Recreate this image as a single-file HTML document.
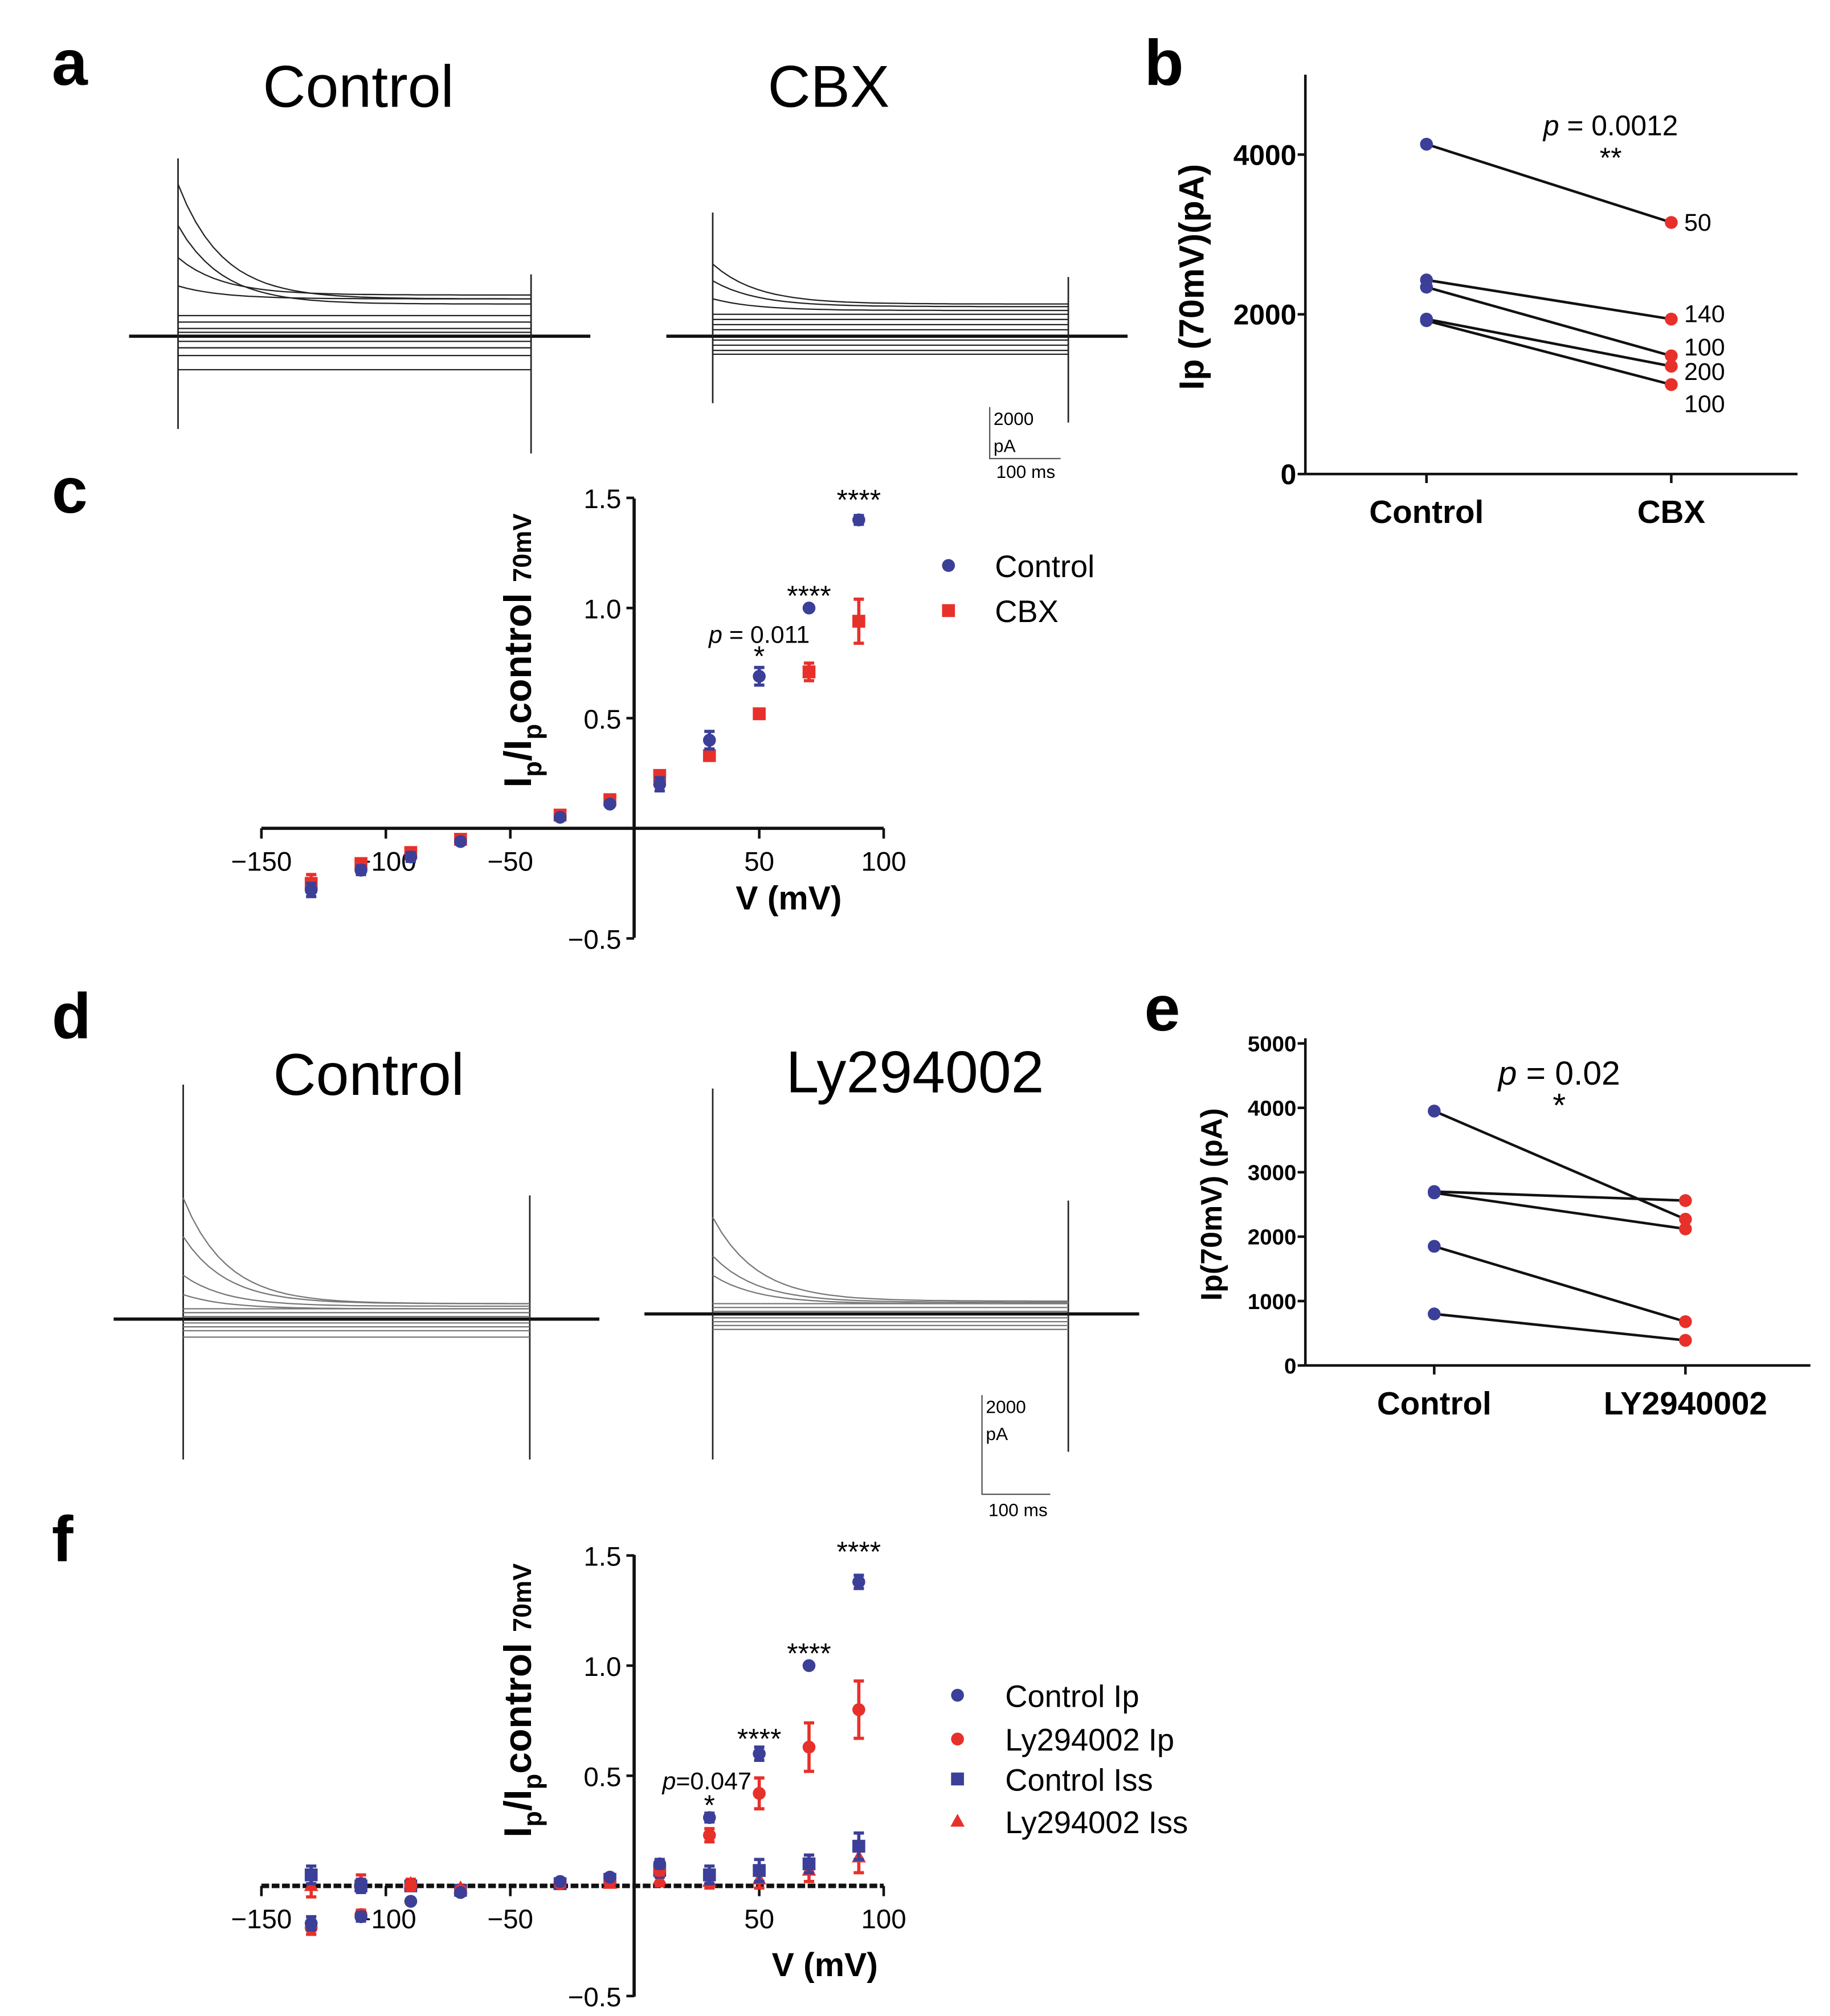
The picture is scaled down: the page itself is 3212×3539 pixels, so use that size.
<!DOCTYPE html>
<html><head><meta charset="utf-8"><style>
html,body{margin:0;padding:0;background:#fff}
svg{display:block}
text{font-family:"Liberation Sans",Arial,sans-serif}
.b{font-weight:bold}
</style></head><body>
<svg id="fig" width="3212" height="3539" viewBox="0 0 1420 1565" xmlns="http://www.w3.org/2000/svg">
<g id="labels">
<text x="40" y="66" font-size="50" class="b">a</text>
<text x="888" y="66" font-size="50" class="b">b</text>
<text x="40" y="398" font-size="50" class="b">c</text>
<text x="40" y="806" font-size="50" class="b">d</text>
<text x="888" y="800" font-size="50" class="b">e</text>
<text x="40" y="1212" font-size="50" class="b">f</text>
<text x="278" y="83" font-size="46" text-anchor="middle">Control</text>
<text x="643" y="83" font-size="46" text-anchor="middle">CBX</text>
<text x="286" y="850" font-size="46" text-anchor="middle">Control</text>
<text x="710" y="848" font-size="46" text-anchor="middle">Ly294002</text>
</g>
<g id="traces"></g>
<g id="pb"></g>
<g id="pc"></g>
<g id="pe"></g>
<g id="pf"></g>
</svg>
<script>
// ---- panel b data ----
const bCats=["Control","CBX"];
const bControl=[4130,2430,2340,1940,1920];
const bCBX=[3150,1940,1480,1350,1120];
const bNotes=["50","140","100","200","100"];
const bTicks=[0,2000,4000];
// ---- panel e data ----
const eCats=["Control","LY2940002"];
const eControl=[3950,2700,2680,1850,800];
const eLy=[2270,2560,2120,680,390];
const eTicks=[0,1000,2000,3000,4000,5000];
// ---- panel c data ----
const volts=[-130,-110,-90,-70,-30,-10,10,30,50,70,90];
const cControl=[-0.28,-0.19,-0.13,-0.06,0.05,0.11,0.2,0.4,0.69,1.0,1.4];
const cControlErr=[0.03,0.02,0.02,0.01,0.01,0.01,0.03,0.04,0.04,0.01,0.02];
const cCBX=[-0.25,-0.16,-0.11,-0.05,0.06,0.13,0.24,0.33,0.52,0.71,0.94];
const cCBXErr=[0.04,0.02,0.02,0.01,0.01,0.01,0.02,0.02,0.02,0.04,0.1];
const xTicks=[-150,-100,-50,50,100];
const yTicks=[-0.5,0.5,1.0,1.5];
// ---- panel f data ----
const fCtrlIp=[-0.17,-0.14,-0.07,-0.03,0.02,0.04,0.1,0.31,0.6,1.0,1.38];
const fCtrlIpErr=[0.03,0.02,0.01,0.01,0.01,0.01,0.02,0.02,0.03,0.01,0.03];
const fLyIp=[-0.19,-0.13,0.0,-0.02,0.01,0.02,0.07,0.23,0.42,0.63,0.8];
const fLyIpErr=[0.03,0.02,0.02,0.01,0.01,0.01,0.02,0.03,0.07,0.11,0.13];
const fCtrlIss=[0.05,0.0,0.0,-0.02,0.01,0.03,0.07,0.05,0.07,0.1,0.18];
const fCtrlIssErr=[0.04,0.03,0.02,0.02,0.01,0.02,0.03,0.04,0.05,0.04,0.06];
const fLyIss=[0.0,0.02,0.01,-0.01,0.01,0.01,0.03,0.02,0.03,0.07,0.13];
const fLyIssErr=[0.05,0.03,0.02,0.01,0.01,0.01,0.03,0.03,0.04,0.05,0.07];

const NS="http://www.w3.org/2000/svg";
function mk(parent,tag,attrs,txt){const e=document.createElementNS(NS,tag);for(const k in attrs)e.setAttribute(k,attrs[k]);if(txt!==undefined)e.textContent=txt;parent.appendChild(e);return e;}
const BLUE="#3b3f98",RED="#e8302a";

// ---------- traces ----------
const T=document.getElementById('traces');
function traceSet(x0,x1,xs,xe,base,top1,bot1,end1,end2,steady,peaks,col,spk){
  let l=mk(T,'line',{x1:xs,y1:base,x2:xe,y2:base,stroke:'#111','stroke-width':2.5});
  
  
  let v=mk(T,'line',{x1:x0,y1:top1,x2:x0,y2:bot1,stroke:'#222','stroke-width':1.2});
  
  
  let v2=mk(T,'line',{x1:x1,y1:end1,x2:x1,y2:end2,stroke:'#222','stroke-width':1.2});
  
  
  steady.forEach(y=>{
    let p=mk(T,'line',{x1:x0,y1:y,x2:x1,y2:y,stroke:col,'stroke-width':1});
    
    
  });
  peaks.forEach(([py,sy])=>{
    let d='M'+x0+','+py;
    for(let i=1;i<=40;i++){const x=x0+(x1-x0)*i/40;const y=sy+(py-sy)*Math.exp(-i/5);d+=' L'+x.toFixed(1)+','+y.toFixed(1);}
    let p=mk(T,'path',{d:d,fill:'none',stroke:col,'stroke-width':1});
    
    
  });
}
traceSet(138,412,100,458,261,123,333,213,352,[245,250,255,258,265,270,276,287],[[143,232],[175,236],[200,229],[222,232]],'#222');
traceSet(553,829,517,875,261,165,313,215,328,[244,248,252,256,264,268,272,275],[[205,236],[218,238],[232,241]],'#222');
traceSet(142,411,88,465,1024,842,1133,928,1133,[1016,1019,1022,1027,1030,1033,1038],[[930,1012],[960,1012],[990,1014],[1005,1016]],'#777');
traceSet(553,829,500,884,1020,845,1133,932,1127,[1012,1015,1018,1023,1026,1029,1032],[[945,1010],[975,1011],[990,1012]],'#777');
function scaleBar(x,y0,y1,x2,ty){
  let g=mk(T,'g',{});
  
  
  mk(g,'path',{d:`M${x},${y0} L${x},${y1} L${x2},${y1}`,fill:'none',stroke:'#555','stroke-width':1});
  mk(g,'text',{x:x+3,y:y0+14,'font-size':14},'2000');
  mk(g,'text',{x:x+3,y:y0+35,'font-size':14},'pA');
  mk(g,'text',{x:x+5,y:ty,'font-size':14},'100 ms');
}
scaleBar(768,316,356,823,371);
scaleBar(762,1083,1160,815,1177);

// ---------- paired plots ----------
function paired(gid,cats,a,b,ticks,tmax,y0px,ymaxPx,xl,xr,xA,xB,axTop,notes,ylab,ylx,yly,ylfs,tfs,pText,px,py,starTxt){
  const G=document.getElementById(gid);
  const Y=v=>y0px-(v/tmax)*(y0px-ymaxPx);
  mk(G,'line',{x1:xl,y1:axTop,x2:xl,y2:y0px,stroke:'#111','stroke-width':2});
  mk(G,'line',{x1:xl,y1:y0px,x2:xr,y2:y0px,stroke:'#111','stroke-width':2});
  ticks.forEach(t=>{
    mk(G,'line',{x1:xl-6,y1:Y(t),x2:xl,y2:Y(t),stroke:'#111','stroke-width':2});
    let tx=mk(G,'text',{x:xl-7,y:Y(t)+tfs*0.36,'font-size':tfs,'text-anchor':'end',class:'b'},t);
    
    
  });
  [xA,xB].forEach((x,i)=>{
    mk(G,'line',{x1:x,y1:y0px,x2:x,y2:y0px+7,stroke:'#111','stroke-width':2});
    let tx=mk(G,'text',{x:x,y:y0px+38,'font-size':25,'text-anchor':'middle',class:'b'},cats[i]);
    
    
  });
  let yl=mk(G,'text',{x:0,y:0,'font-size':ylfs,'text-anchor':'middle',class:'b',transform:`translate(${ylx},${yly}) rotate(-90)`},ylab);
  
  
  a.forEach((v,i)=>{
    let ln=mk(G,'line',{x1:xA,y1:Y(v),x2:xB,y2:Y(b[i]),stroke:'#111','stroke-width':2});
    
    
    let c1=mk(G,'circle',{cx:xA,cy:Y(v),r:5,fill:BLUE});
    
    
    let c2=mk(G,'circle',{cx:xB,cy:Y(b[i]),r:5,fill:RED});
    
    
  });
  if(notes){
    const ny=[173,244,270,289,314];
    notes.forEach((n,i)=>{let t=mk(G,'text',{x:xB+10,y:ny[i]+6,'font-size':19},n);
      
      });
  }
  let pt=mk(G,'text',{x:px,y:py,'font-size':pText[1],'text-anchor':'middle'});
  
  
  mk(pt,'tspan',{'font-style':'italic'},'p');
  mk(pt,'tspan',{},pText[0]);
  let st=mk(G,'text',{x:px,y:py+25,'font-size':pText[1],'text-anchor':'middle'},starTxt);
  
  
}
paired('pb',bCats,bControl,bCBX,bTicks,4000,368,120,1013,1395,1107,1297,58,bNotes,'Ip (70mV)(pA)',934,215,27,22,[' = 0.0012',22],1250,105,'**');
paired('pe',eCats,eControl,eLy,eTicks,5000,1060,810,1013,1405,1113,1308,806,null,'Ip(70mV) (pA)',948,935,23,17,[' = 0.02',26],1210,842,'*');

// ---------- IV plots ----------
function ivAxes(G,y0,ytop,ybot,ylx,yly,vx,vy,dashedX){
  const X=v=>492.5+v*(96.6/50);
  const Y=v=>y0-v*171;
  mk(G,'line',{x1:492,y1:ytop,x2:492,y2:ybot,stroke:'#111','stroke-width':2.5});
  mk(G,'line',{x1:X(-150),y1:y0,x2:X(100),y2:y0,stroke:'#111','stroke-width':dashedX?3.5:2.5,'stroke-dasharray':dashedX?'6,2':'none'});
  xTicks.forEach(t=>{
    mk(G,'line',{x1:X(t),y1:y0,x2:X(t),y2:y0+8,stroke:'#111','stroke-width':2});
    let tx=mk(G,'text',{x:X(t),y:y0+33,'font-size':21,'text-anchor':'middle'},(t<0?'\u2212':'')+Math.abs(t));
    
    
  });
  yTicks.forEach(t=>{
    mk(G,'line',{x1:486,y1:Y(t),x2:492,y2:Y(t),stroke:'#111','stroke-width':2});
    let tx=mk(G,'text',{x:482,y:Y(t)+8,'font-size':21,'text-anchor':'end'},(t<0?'\u2212':'')+Math.abs(t).toFixed(1));
    
    
  });
  let yl=mk(G,'text',{x:0,y:0,'font-size':30,'text-anchor':'middle',class:'b',transform:`translate(${ylx},${yly}) rotate(-90)`});
  
  
  mk(yl,'tspan',{},'I');mk(yl,'tspan',{'font-size':20,dy:8},'p');mk(yl,'tspan',{dy:-8},'/I');
  mk(yl,'tspan',{'font-size':20,dy:8},'p');mk(yl,'tspan',{dy:-8},'control ');mk(yl,'tspan',{'font-size':20},'70mV');
  let xl=mk(G,'text',{x:vx,y:vy,'font-size':26,'text-anchor':'middle',class:'b'},'V (mV)');
  
  
  return [X,Y];
}
function series(G,X,Y,vals,errs,color,shape,name){
  vals.forEach((v,i)=>{
    const x=X(volts[i]),y=Y(v),e=errs[i]*171;
    let eb=mk(G,'path',{d:`M${x},${y-e} L${x},${y+e} M${x-4},${y-e} L${x+4},${y-e} M${x-4},${y+e} L${x+4},${y+e}`,stroke:color,'stroke-width':2.5,fill:'none'});
    
    
    let m;
    if(shape==='c')m=mk(G,'circle',{cx:x,cy:y,r:5,fill:color});
    else if(shape==='s')m=mk(G,'rect',{x:x-5,y:y-5,width:10,height:10,fill:color});
    else m=mk(G,'path',{d:`M${x},${y-6} L${x+5.5},${y+4} L${x-5.5},${y+4} Z`,fill:color});
    
    
  });
}
function legend(G,items,x,tx){
  items.forEach(([lab,col,shape,y])=>{
    let g=mk(G,'g',{});
    
    
    if(shape==='c')mk(g,'circle',{cx:x,cy:y,r:5,fill:col});
    else if(shape==='s')mk(g,'rect',{x:x-5,y:y-5,width:10,height:10,fill:col});
    else mk(g,'path',{d:`M${x},${y-6} L${x+5.5},${y+4} L${x-5.5},${y+4} Z`,fill:col});
    mk(g,'text',{x:tx,y:y+9,'font-size':24},lab);
  });
}
function note(G,x,y,t,fs,it){
  let e=mk(G,'text',{x:x,y:y,'font-size':fs||20,'text-anchor':'middle'});
  
  
  if(it){mk(e,'tspan',{'font-style':'italic'},'p');mk(e,'tspan',{},t);}else e.textContent=t;
}
// panel c
(function(){
  const G=document.getElementById('pc');
  const [X,Y]=ivAxes(G,643,387,728,412,505,612,706,false);
  series(G,X,Y,cCBX,cCBXErr,RED,'s','cbx');
  series(G,X,Y,cControl,cControlErr,BLUE,'c','control');
  note(G,X(90),Y(1.4)-8,'****',22);
  note(G,X(70),Y(1.0)-2,'****',22);
  note(G,X(50)+0,Y(0.69)-26,' = 0.011',19,true);
  note(G,X(50),Y(0.69)-8,'*',22);
  legend(G,[['Control',BLUE,'c',439],['CBX',RED,'s',474]],736,772);
})();
// panel f
(function(){
  const G=document.getElementById('pf');
  const [X,Y]=ivAxes(G,1464,1207,1550,412,1320,640,1534,true);
  series(G,X,Y,fLyIss,fLyIssErr,RED,'t','ly-iss');
  series(G,X,Y,fCtrlIss,fCtrlIssErr,BLUE,'s','control-iss');
  series(G,X,Y,fLyIp,fLyIpErr,RED,'c','ly-ip');
  series(G,X,Y,fCtrlIp,fCtrlIpErr,BLUE,'c','control-ip');
  note(G,X(90),Y(1.38)-16,'****',22);
  note(G,X(70),Y(1.0)-2,'****',22);
  note(G,X(50),Y(0.6)-4,'****',22);
  note(G,X(30)-2,Y(0.31)-22,'=0.047',19,true);
  note(G,X(30),Y(0.31)-2,'*',22);
  legend(G,[['Control Ip',BLUE,'c',1316],['Ly294002 Ip',RED,'c',1350],['Control  Iss',BLUE,'s',1381],['Ly294002 Iss',RED,'t',1414]],743,780);
})();
</script>
</body></html>
